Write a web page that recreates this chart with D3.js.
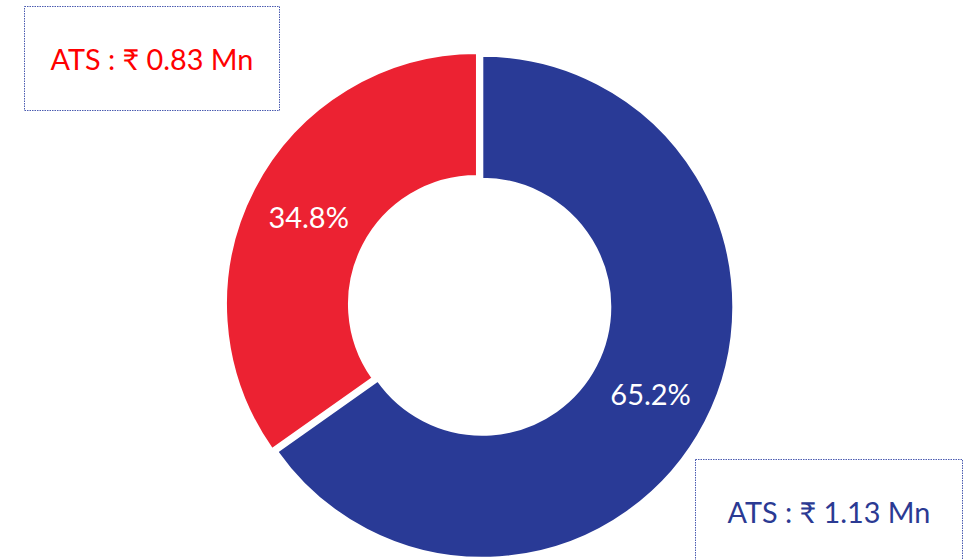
<!DOCTYPE html>
<html>
<head>
<meta charset="utf-8">
<script src="https://cdn.jsdelivr.net/npm/d3@7"></script>
<style>
  html, body { margin: 0; padding: 0; background: #ffffff; }
  svg { display: block; }
</style>
</head>
<body>
<svg id="chart" width="977" height="560"></svg>
<script>
// ---- data ----
const segments = ["ATS 1.13 Mn", "ATS 0.83 Mn"];
const shares = [65.2, 34.8];
const shareLabels = ["65.2%", "34.8%"];
const atsLabels = ["ATS : ₹ 1.13 Mn", "ATS : ₹ 0.83 Mn"];
const colors = ["#293A96", "#EC2232"];
const textColors = ["#2B3A93", "#FF0000"];
const exploded = [0, 6];

// ---- layout ----
const svg = d3.select("#chart");
const cx = 482.3, cy = 306.8;
const outerR = 251, innerR = 128;

const pie = d3.pie().sort(null).value(d => d)(shares);
const arc = d3.arc().innerRadius(innerR).outerRadius(outerR);

const g = svg.append("g").attr("transform", `translate(${cx},${cy})`);

const slices = g.selectAll("g.slice")
  .data(pie)
  .join("g")
  .attr("class", "slice")
  .attr("transform", (d, i) => {
    const mid = (d.startAngle + d.endAngle) / 2;
    const off = exploded[i];
    return `translate(${Math.sin(mid) * off},${-Math.cos(mid) * off})`;
  });

slices.append("path")
  .attr("d", arc)
  .attr("fill", (d, i) => colors[i])
  .attr("stroke", "#ffffff")
  .attr("stroke-width", 2)
  .attr("stroke-linejoin", "miter");

slices.append("text")
  .attr("transform", d => `translate(${arc.centroid(d)})`)
  .attr("text-anchor", "middle")
  .attr("dominant-baseline", "central")
  .attr("font-family", "Lato, 'Noto Sans', sans-serif")
  .attr("font-size", 29)
  .attr("fill", "#ffffff")
  .text((d, i) => shareLabels[i]);

// ---- ATS boxes ----
const boxes = [
  { x: 695.5, y: 459.5, w: 267, h: 120, label: atsLabels[0], color: textColors[0], ty: 523 },
  { x: 24.5, y: 6.5, w: 255, h: 104, label: atsLabels[1], color: textColors[1], ty: 70 }
];

const bg = svg.selectAll("g.box").data(boxes).join("g").attr("class", "box");
bg.append("rect")
  .attr("x", d => d.x).attr("y", d => d.y)
  .attr("width", d => d.w).attr("height", d => d.h)
  .attr("fill", "none")
  .attr("stroke", "#4A5BB0")
  .attr("stroke-width", 1)
  .attr("stroke-dasharray", "1.5,1");
bg.append("text")
  .attr("x", d => d.x + d.w / 2)
  .attr("y", d => d.ty)
  .attr("text-anchor", "middle")
  .attr("font-family", "Lato, 'Noto Sans', sans-serif")
  .attr("font-size", 28.8)
  .attr("fill", d => d.color)
  .text(d => d.label);
</script>
</body>
</html>
